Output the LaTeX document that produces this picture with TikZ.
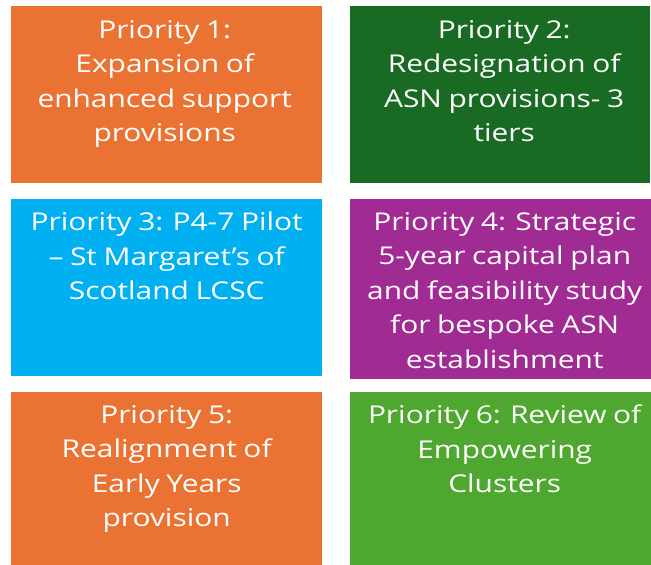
\documentclass[tikz,border=0pt]{standalone}
\usepackage{fontspec}
\setmainfont{Open Sans}[FakeStretch=1.22, WordSpace=0.85]
\usepackage{tikz}
\usetikzlibrary{positioning}

\definecolor{prioorange}{RGB}{234, 115, 52}
\definecolor{priodarkgreen}{RGB}{25, 107, 36}
\definecolor{prioblue}{RGB}{0, 176, 240}
\definecolor{priopurple}{RGB}{160, 43, 147}
\definecolor{priogreen}{RGB}{78, 167, 46}

\tikzset{
  priobox/.style={anchor=north west, inner sep=0pt, draw=none},
  priotext/.style={text=white, align=center, inner sep=0pt,
    font=\fontsize{24.5}{34.5}\selectfont},
}

\begin{document}
\begin{tikzpicture}[x=1pt, y=-1pt]
  \useasboundingbox (0,0) rectangle (651,565);

  % top row
  \node[priobox, fill=prioorange, minimum width=311pt, minimum height=177pt] (prio1) at (11,6) {};
  \node[priobox, fill=priodarkgreen, minimum width=300pt, minimum height=177pt] (prio2) at (350,6) {};
  % middle row
  \node[priobox, fill=prioblue, minimum width=311pt, minimum height=177pt] (prio3) at (11,199) {};
  \node[priobox, fill=priopurple, minimum width=301pt, minimum height=180pt] (prio4) at (350,199) {};
  % bottom row
  \node[priobox, fill=prioorange, minimum width=311pt, minimum height=173pt] (prio5) at (11,392) {};
  \node[priobox, fill=priogreen, minimum width=301pt, minimum height=173pt] (prio6) at (350,392) {};

  \node[priotext, below=14pt of prio1.north, xshift=-2pt] (prio1text) {
    Priority 1:\\ Expansion of\\ enhanced support\\ provisions};
  \node[priotext, below=14pt of prio2.north, xshift=4pt] (prio2text) {
    Priority 2:\\ Redesignation of\\ ASN provisions- 3\\ tiers};
  \node[priotext, below=13pt of prio3.north] (prio3text) {
    Priority 3: P4-7 Pilot\\ – St Margaret’s of\\ Scotland LCSC};
  \node[priotext, below=13pt of prio4.north, xshift=4pt] (prio4text) {
    Priority 4: Strategic\\ 5-year capital plan\\ and feasibility study\\
    for bespoke ASN\\ establishment};
  \node[priotext, below=13pt of prio5.north] (prio5text) {
    Priority 5:\\ Realignment of\\ Early Years\\ provision};
  \node[priotext, below=13pt of prio6.north, xshift=4pt] (prio6text) {
    Priority 6: Review of\\ Empowering\\ Clusters};
\end{tikzpicture}
\end{document}
